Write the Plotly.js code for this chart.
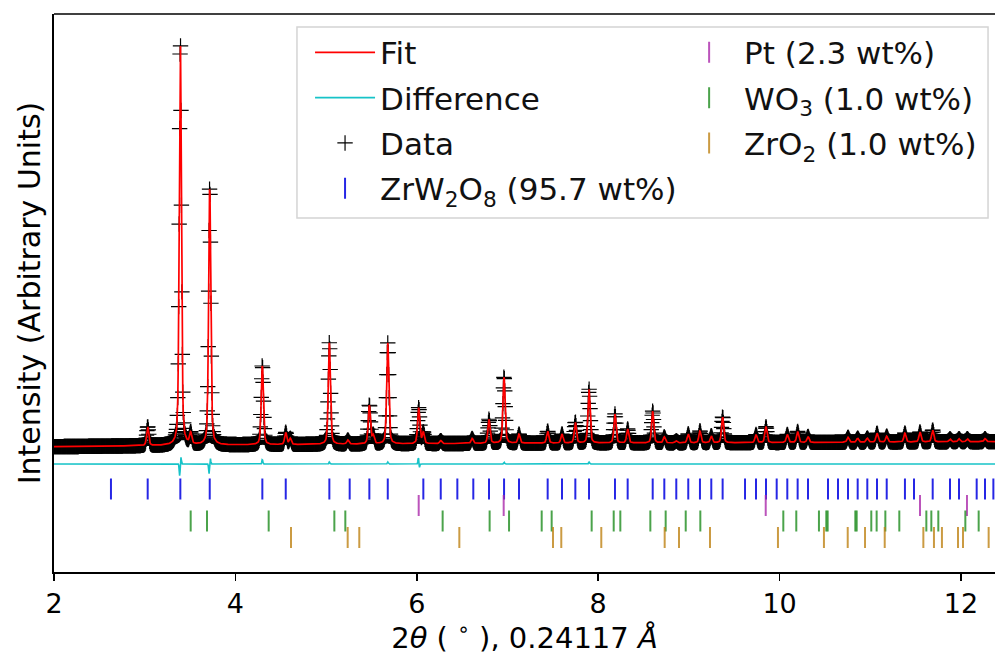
<!DOCTYPE html>
<html>
<head>
<meta charset="utf-8">
<script src="https://cdn.plot.ly/plotly-3.0.1.min.js"></script>
<style>html,body{margin:0;padding:0;background:#fff;}#chart{width:995px;height:655px;}</style>
</head>
<body>
<div id="chart"></div>
<script>
// ---- values ----
// 2theta range and sampling step of the pattern
const twoThetaStart = 2.0;
const twoThetaEnd = 12.375;
const twoThetaStep = 0.005;

// background (arbitrary units) at a few 2theta positions
const bgX = [2.0, 4.0, 7.0, 9.0, 12.375];
const bgY = [12.53, 12.70, 12.87, 12.90, 13.03];

// observed peaks: positions (deg) and heights above background (arbitrary units)
const peakPos = [3.033, 3.393, 3.507, 3.717, 4.297, 4.555, 4.605, 5.036, 5.240, 5.477, 5.520, 5.680,
  6.021, 6.072, 6.264, 6.610, 6.796, 6.962, 7.127, 7.443, 7.601, 7.748, 7.899, 8.185, 8.325,
  8.601, 8.729, 8.861, 8.993, 9.122, 9.247, 9.372, 9.740, 9.850, 10.085, 10.199, 10.313,
  10.754, 10.861, 10.967, 11.074, 11.181, 11.382, 11.548, 11.688, 11.879, 11.978, 12.070, 12.265];
const peakHeight = [1.9, 40.6, 1.1, 26.0, 8.0, 1.2, 0.6, 10.2, 0.4, 3.9, 0.8, 10.1,
  3.6, 1.1, 0.3, 0.5, 2.4, 6.7, 0.9, 1.2, 0.9, 2.1, 5.4, 2.9, 1.4,
  3.2, 0.6, 0.2, 0.9, 1.2, 0.7, 2.6, 0.8, 1.6, 0.8, 1.1, 0.6,
  0.5, 0.4, 0.4, 0.9, 0.6, 0.9, 1.0, 1.2, 0.3, 0.3, 0.3, 0.3];
const peakFwhm = 0.028;

// difference curve: offset and residual features (position, signed amplitude)
const diffOffset = 10.8;
const resPos = [3.386, 3.399, 3.710, 3.723, 4.297, 5.036, 5.680, 6.018, 6.028, 6.962, 7.899];
const resAmp = [-1.2, 0.7, -1.0, 0.6, 0.45, 0.2, 0.2, 0.7, -0.4, 0.2, 0.2];

// reflection tick positions per phase (deg 2theta)
const zrw2o8Ticks = [2.628, 3.033, 3.393, 3.717, 4.297, 4.555, 5.036, 5.260, 5.477, 5.680, 6.072, 6.264,
  6.447, 6.623, 6.796, 6.962, 7.127, 7.443, 7.601, 7.748, 7.899, 8.185, 8.325, 8.601, 8.729, 8.861,
  8.993, 9.122, 9.247, 9.372, 9.619, 9.740, 9.850, 9.968, 10.085, 10.199, 10.313, 10.534, 10.644,
  10.754, 10.861, 10.967, 11.074, 11.181, 11.382, 11.482, 11.688, 11.879, 11.978, 12.173, 12.265, 12.357];
const ptTicks = [6.021, 6.958, 9.847, 11.548, 12.066];
const wo3Ticks = [3.507, 3.687, 4.367, 5.091, 5.212, 6.285, 6.803, 7.017, 7.377, 7.487, 7.928, 8.171,
  8.244, 8.575, 8.744, 8.965, 9.126, 10.041, 10.184, 10.434, 10.515, 10.530, 10.835, 10.850, 11.011,
  11.070, 11.166, 11.320, 11.618, 11.673, 11.750, 12.048, 12.195];
const zro2Ticks = [4.613, 5.238, 5.366, 6.469, 7.502, 7.593, 8.034, 8.733, 8.891, 9.233, 9.982, 10.489,
  10.751, 10.942, 11.159, 11.585, 11.702, 11.790, 11.967, 12.022, 12.305];

// tick row levels (arbitrary units)
const rowZrW2O8 = 8.3, rowPt = 6.65, rowWO3 = 5.1, rowZrO2 = 3.45;

// legend labels
const labels = {
  fit: 'Fit', diff: 'Difference', data: 'Data',
  zrw2o8: 'ZrW<sub>2</sub>O<sub>8</sub> (95.7 wt%)',
  pt: 'Pt (2.3 wt%)', wo3: 'WO<sub>3</sub> (1.0 wt%)', zro2: 'ZrO<sub>2</sub> (1.0 wt%)'
};

// ---- build profile from the read peak list ----
function bg(x) {
  for (let i = 0; i < bgX.length - 1; i++) {
    if (x <= bgX[i + 1]) {
      const t = (x - bgX[i]) / (bgX[i + 1] - bgX[i]);
      return bgY[i] + t * (bgY[i + 1] - bgY[i]);
    }
  }
  return bgY[bgY.length - 1];
}
function pv(x, x0, w) {
  const u = (x - x0) / w;
  return 0.6 * Math.exp(-4 * Math.LN2 * u * u) + 0.4 / (1 + 4 * u * u);
}
const xs = [], fit = [], diff = [];
const n = Math.round((twoThetaEnd - twoThetaStart) / twoThetaStep);
for (let i = 0; i <= n; i++) {
  const x = twoThetaStart + i * twoThetaStep;
  let y = bg(x);
  for (let k = 0; k < peakPos.length; k++) y += peakHeight[k] * pv(x, peakPos[k], peakFwhm);
  let d = diffOffset;
  for (let k = 0; k < resPos.length; k++) d += resAmp[k] * Math.exp(-4 * Math.LN2 * ((x - resPos[k]) / 0.012) ** 2);
  xs.push(x); fit.push(y); diff.push(d);
}

const font = 'DejaVu Sans, Verdana, sans-serif';
function tickTrace(pos, level, color, name, legend, rank) {
  return {
    type: 'scatter', mode: 'markers', x: pos, y: pos.map(() => level), name: name,
    legend: legend, legendrank: rank, legendgroup: 'g' + rank,
    marker: {symbol: 'line-ns', size: 15, color: color, line: {color: color, width: 2}},
    hoverinfo: 'skip'
  };
}

const traces = [
  {type: 'scatter', mode: 'markers', x: xs, y: fit, name: labels.data, legend: 'legend', legendrank: 3, legendgroup: 'g3',
   marker: {symbol: 'cross-thin', size: 11, color: 'black', line: {color: 'black', width: 1.2}}},
  {type: 'scatter', mode: 'lines', x: xs, y: fit, name: labels.fit, legend: 'legend', legendrank: 1, legendgroup: 'g1',
   line: {color: '#ff0000', width: 1.7}},
  {type: 'scatter', mode: 'lines', x: xs, y: diff, name: labels.diff, legend: 'legend', legendrank: 2, legendgroup: 'g2',
   line: {color: '#17c3c8', width: 1.6}},
  tickTrace(zrw2o8Ticks, rowZrW2O8, 'rgba(0,0,225,0.85)', labels.zrw2o8, 'legend', 4),
  tickTrace(ptTicks, rowPt, 'rgba(170,40,170,0.8)', labels.pt, 'legend2', 5),
  tickTrace(wo3Ticks, rowWO3, 'rgba(30,140,30,0.8)', labels.wo3, 'legend2', 6),
  tickTrace(zro2Ticks, rowZrO2, 'rgba(190,130,20,0.8)', labels.zro2, 'legend2', 7)
];

const legendCommon = {
  bgcolor: 'rgba(0,0,0,0)', borderwidth: 0, font: {family: font, size: 31, color: '#111'},
  xanchor: 'left', yanchor: 'top', itemwidth: 60, tracegroupgap: 2, traceorder: 'grouped', itemclick: false
};

const layout = {
  width: 995, height: 655,
  margin: {l: 54, r: 0, t: 14, b: 83},
  paper_bgcolor: 'white', plot_bgcolor: 'white',
  font: {family: font, color: 'black'},
  showlegend: true,
  legend: Object.assign({}, legendCommon, {x: 0.2721, y: 0.979}),
  legend2: Object.assign({}, legendCommon, {x: 0.659, y: 0.979}),
  xaxis: {
    range: [twoThetaStart, twoThetaEnd], tickvals: [2, 4, 6, 8, 10, 12],
    ticks: 'outside', ticklen: 7, tickwidth: 1.5, tickcolor: 'black',
    showline: true, linewidth: 1.6, linecolor: 'black', mirror: false,
    showgrid: false, zeroline: false,
    tickfont: {family: font, size: 27, color: 'black'},
    title: {text: '2<i>θ</i> ( <sup>∘</sup> ), 0.24117 <i>Å</i>', font: {family: font, size: 29, color: 'black'}, standoff: 4}
  },
  yaxis: {
    range: [0, 55.8], showticklabels: false, ticks: '',
    showline: true, linewidth: 1.6, linecolor: 'black',
    showgrid: false, zeroline: false,
    title: {text: 'Intensity (Arbitrary Units)', font: {family: font, size: 30, color: 'black'}, standoff: 3}
  },
  shapes: [
    {type: 'line', xref: 'paper', yref: 'paper', x0: 0, x1: 1.2, y0: 1, y1: 1, line: {color: 'black', width: 1.6}},
    {type: 'rect', xref: 'paper', yref: 'paper', x0: 0.2582, x1: 0.9926, y0: 0.6344, y1: 0.9767,
     line: {color: '#d4d4d4', width: 1.5}, fillcolor: 'rgba(255,255,255,0.85)', layer: 'above'}
  ]
};

Plotly.newPlot('chart', traces, layout, {staticPlot: true, displayModeBar: false});
</script>
</body>
</html>
